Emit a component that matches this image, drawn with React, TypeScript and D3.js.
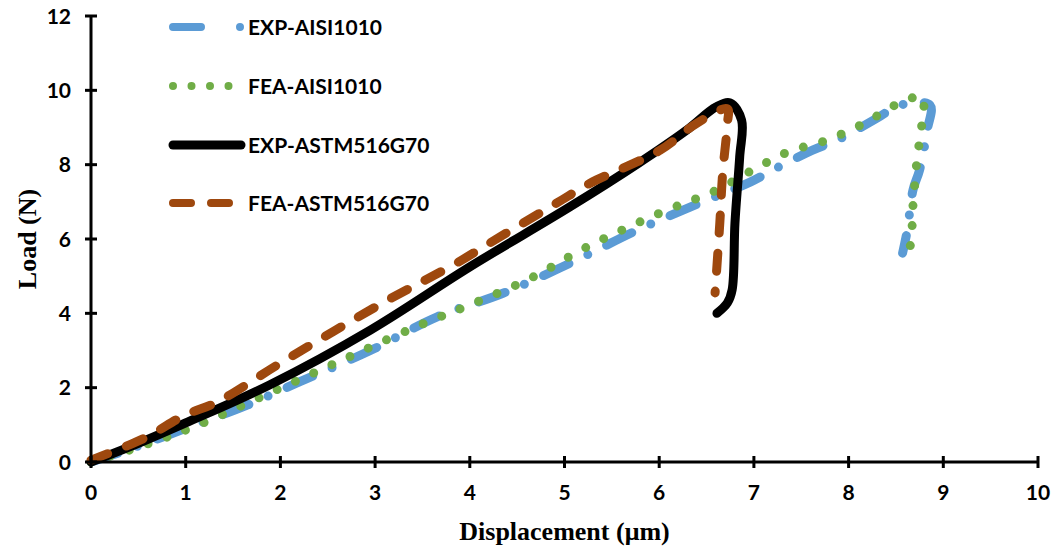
import React from "react";
import * as d3 from "d3";

type Pt = [number, number];

const xTicks = [0, 1, 2, 3, 4, 5, 6, 7, 8, 9, 10];
const yTicks = [0, 2, 4, 6, 8, 10, 12];

const seriesNames = ["EXP-AISI1010", "FEA-AISI1010", "EXP-ASTM516G70", "FEA-ASTM516G70"];

const expAisi: Pt[] = [
  [0, 0], [0.3, 0.25], [0.7, 0.62], [1.1, 1.0], [1.65, 1.53], [2.17, 2.12], [2.95, 3.0],
  [3.65, 3.9], [4.35, 4.54], [5.06, 5.35], [5.77, 6.24], [6.46, 7.0], [6.96, 7.53],
  [7.24, 7.91], [7.62, 8.39], [7.88, 8.66], [8.3, 9.25], [8.54, 9.6], [8.86, 9.6],
  [8.83, 8.93], [8.75, 7.86], [8.68, 7.32], [8.62, 6.24], [8.57, 5.62],
];

const feaAisi: Pt[] = [
  [0, 0], [0.5, 0.4], [1.08, 0.94], [1.89, 1.86], [2.7, 2.8], [3.47, 3.68], [4.07, 4.3],
  [4.67, 4.98], [5.24, 5.79], [6.01, 6.7], [6.61, 7.32], [6.99, 7.86], [7.36, 8.34],
  [7.77, 8.66], [8.17, 9.12], [8.54, 9.66], [8.78, 9.82], [8.78, 9.25], [8.75, 8.66],
  [8.72, 8.07], [8.7, 7.51], [8.68, 6.91], [8.67, 6.32], [8.65, 5.78],
];

const expAstm: Pt[] = [
  [0, 0], [0.5, 0.5], [1, 1.05], [1.89, 2.08], [2.95, 3.55], [4, 5.25], [5.06, 6.87],
  [5.77, 8.02], [6.29, 8.93], [6.6, 9.55], [6.75, 9.66], [6.87, 9.2], [6.85, 8.21],
  [6.8, 6.43], [6.77, 4.63], [6.72, 4.28], [6.61, 4.0],
];

const feaAstm: Pt[] = [
  [0, 0.05], [0.57, 0.65], [0.99, 1.26], [1.33, 1.61], [2.0, 2.66], [3.08, 4.28],
  [3.86, 5.35], [4.21, 5.89], [4.92, 6.97], [5.27, 7.5], [6.01, 8.39], [6.4, 9.12],
  [6.72, 9.5], [6.72, 9.1], [6.67, 7.77], [6.64, 6.43], [6.59, 4.55],
];

const W = 1055;
const H = 548;
const M = { left: 91, right: 1038, top: 16, bottom: 462 };

export default function App() {
  const x = d3.scaleLinear().domain([0, 10]).range([M.left, M.right]);
  const y = d3.scaleLinear().domain([0, 12]).range([M.bottom, M.top]);
  const line = d3.line<Pt>().x((d) => x(d[0])).y((d) => y(d[1])).curve(d3.curveCatmullRom.alpha(0.5));

  const styles = [
    { data: expAisi, color: "#5B9BD5", width: 9, dash: "28 21 0 21", legendDash: "28 39 0 39" },
    { data: feaAisi, color: "#70AD47", width: 9, dash: "0 20", legendDash: "0 18.5" },
    { data: expAstm, color: "#000000", width: 9, dash: "none", legendDash: "none" },
    { data: feaAstm, color: "#9E480E", width: 9, dash: "18 20", legendDash: "18 20" },
  ];

  const legendY = [27, 86, 145, 203];
  const tickFont = "Lato, 'Open Sans', sans-serif";
  const titleFont = "'Liberation Serif', 'Times New Roman', serif";

  return (
    <svg width={W} height={H} style={{ position: "absolute", left: 0, top: 0, background: "#fff" }}>
      <rect x={0} y={0} width={W} height={H} fill="#fff" />
      {styles.map((s, i) => (
        <path
          key={i}
          d={line(s.data) || ""}
          fill="none"
          stroke={s.color}
          strokeWidth={s.width}
          strokeDasharray={s.dash}
          strokeLinecap="round"
          strokeLinejoin="round"
        />
      ))}
      <line x1={x(0)} x2={x(10)} y1={y(0)} y2={y(0)} stroke="#000" strokeWidth={3} />
      <line x1={x(0)} x2={x(0)} y1={y(0)} y2={y(12)} stroke="#000" strokeWidth={3} />
      {xTicks.map((t) => (
        <g key={"xt" + t}>
          <line x1={x(t)} x2={x(t)} y1={y(0) - 6} y2={y(0) + 6} stroke="#000" strokeWidth={3} />
          <text x={x(t)} y={y(0) + 38} textAnchor="middle" fontFamily={tickFont} fontWeight={700} fontSize={21}>
            {t}
          </text>
        </g>
      ))}
      {yTicks.map((t) => (
        <g key={"yt" + t}>
          <line x1={x(0) - 6} x2={x(0) + 6} y1={y(t)} y2={y(t)} stroke="#000" strokeWidth={3} />
          <text x={x(0) - 20} y={y(t) + 7.5} textAnchor="end" fontFamily={tickFont} fontWeight={700} fontSize={21}>
            {t}
          </text>
        </g>
      ))}
      <text x={(M.left + M.right) / 2} y={540} textAnchor="middle" fontFamily={titleFont} fontWeight={700} fontSize={26}>
        Displacement (μm)
      </text>
      <text
        transform={`translate(36, ${(M.top + M.bottom) / 2}) rotate(-90)`}
        textAnchor="middle"
        fontFamily={titleFont}
        fontWeight={700}
        fontSize={26}
      >
        Load (N)
      </text>
      {styles.map((s, i) => (
        <g key={"lg" + i}>
          <line
            x1={173}
            x2={i === 1 ? 245 : 241}
            y1={legendY[i]}
            y2={legendY[i]}
            stroke={s.color}
            strokeWidth={i === 2 ? 9 : 8}
            strokeDasharray={s.legendDash}
            strokeLinecap="round"
          />
          <text x={248} y={legendY[i] + 7.5} fontFamily={tickFont} fontWeight={700} fontSize={21}>
            {seriesNames[i]}
          </text>
        </g>
      ))}
    </svg>
  );
}
